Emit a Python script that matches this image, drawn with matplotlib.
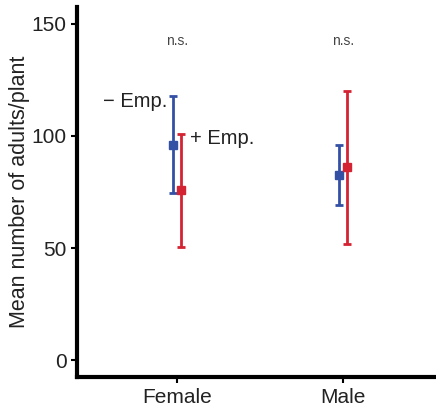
import numpy as np
import matplotlib.pyplot as plt

plt.rcParams["font.family"] = ["Liberation Sans", "DejaVu Sans"]

# ===== data =====
SEXES = ["Female", "Male"]

MINUS_MEAN = [96, 82.7]
MINUS_LOW = [74.7, 69.3]
MINUS_HIGH = [117.8, 96]

PLUS_MEAN = [76, 86.2]
PLUS_LOW = [50.7, 52]
PLUS_HIGH = [101, 120]

SIG_LABELS = ["n.s.", "n.s."]

BLUE = "#3350a5"
RED = "#d42332"


def draw_series(ax, xpos, mean, low, high, color):
    mean = np.array(mean)
    yerr = [mean - np.array(low), np.array(high) - mean]
    ax.errorbar(xpos, mean, yerr=yerr, fmt="s", color=color,
                markersize=6, elinewidth=2, capsize=3, capthick=2)


fig = plt.figure(figsize=(4.36, 4.09), dpi=100)
ax = fig.add_axes([0.177, 0.078, 0.823, 0.905])

x = np.arange(len(SEXES))
offset = 0.025

draw_series(ax, x - offset, MINUS_MEAN, MINUS_LOW, MINUS_HIGH, BLUE)
draw_series(ax, x + offset, PLUS_MEAN, PLUS_LOW, PLUS_HIGH, RED)

for i, lab in enumerate(SIG_LABELS):
    ax.text(x[i], 142.5, lab, ha="center", va="center", fontsize=10, color="#444444")

ax.text(x[0] - 0.055, 115.5, "\u2212 Emp.", ha="right", va="center",
        fontsize=14.5, color="#222222")
ax.text(x[0] + 0.08, 99, "+ Emp.", ha="left", va="center",
        fontsize=14.5, color="#222222")

ax.set_xlim(-0.6, 1.56)
ax.set_ylim(-7.5, 157.5)
ax.set_yticks([0, 50, 100, 150])
ax.set_xticks(x)
ax.set_xticklabels(SEXES)
ax.set_ylabel("Mean number of adults/plant", fontsize=15.5, color="#222222")
ax.yaxis.set_label_coords(-0.131, 0.5)

for side in ["top", "right"]:
    ax.spines[side].set_visible(False)
for side in ["left", "bottom"]:
    ax.spines[side].set_linewidth(3)
ax.tick_params(axis="both", labelsize=15, width=1.5, length=4, labelcolor="#222222")

fig.savefig("out.png", dpi=100)
